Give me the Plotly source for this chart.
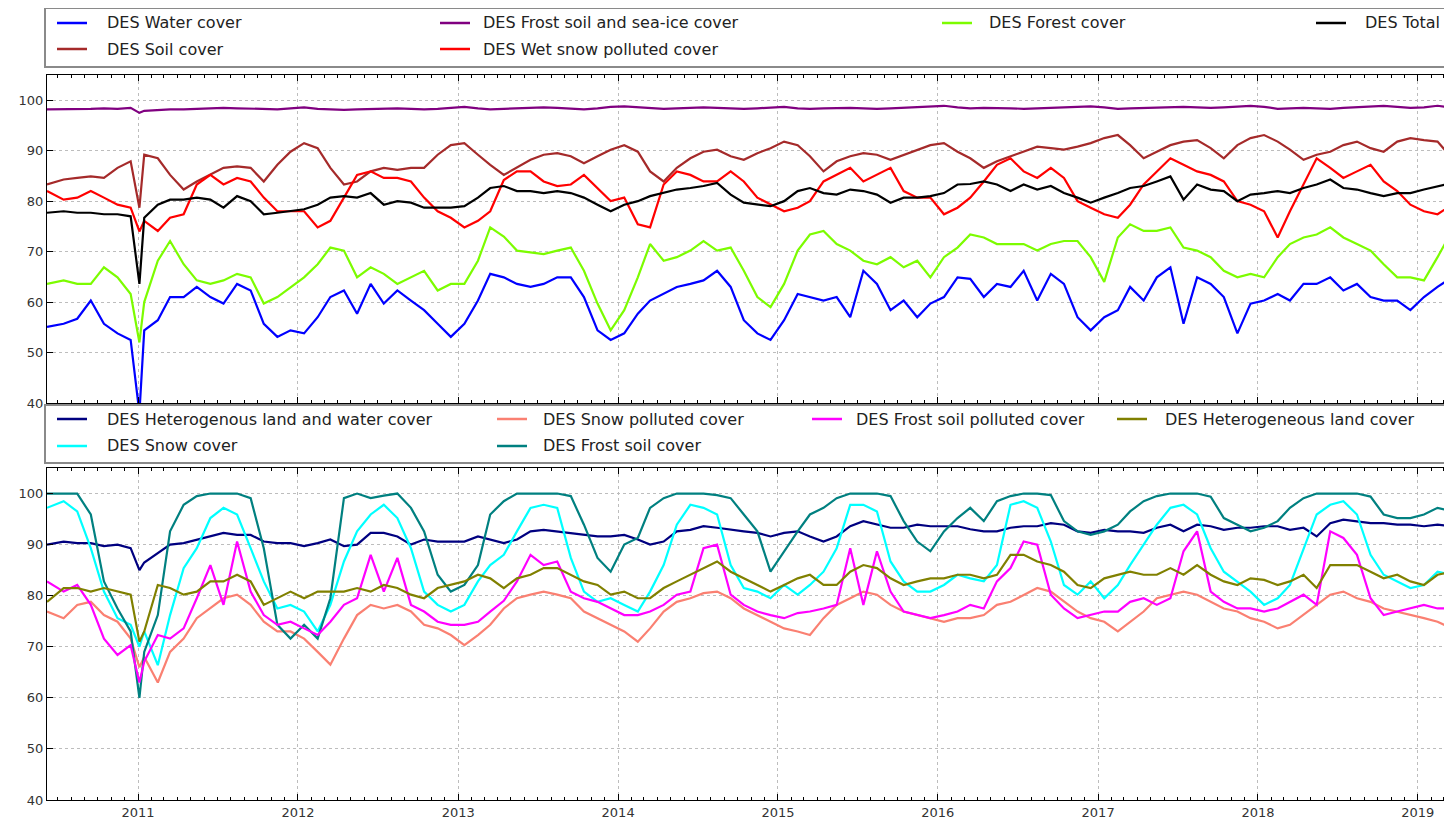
import pandas as pd
import plotly.graph_objects as go

# ---------------- dates (monthly samples, plus the early-Jan-2011 dip) ----------------
months = [d.strftime("%Y-%m-15") for d in pd.date_range("2010-06-01", "2019-03-01", freq="MS")]
months[0] = "2010-06-07"
months[-1] = "2019-03-20"
dates = months[:7] + ["2011-01-04"] + months[7:]

# ---------------- top panel series ----------------
water = [55.1, 55.7, 56.7, 60.3, 55.7, 53.8, 52.5,
         38,
         54.4, 56.4, 61, 61, 63, 61, 59.7, 63.6, 62.3, 55.7, 53.1, 54.4,
         53.8, 57, 61, 62.3, 57.7, 63.6, 59.7, 62.3, 60.3, 58.4, 55.7, 53.1,
         55.7, 60.3, 65.6, 64.9, 63.6, 63, 63.6, 64.9, 64.9, 61, 54.4, 52.5,
         53.8, 57.7, 60.3, 61.6, 63, 63.6, 64.3, 66.2, 63, 56.4, 53.8, 52.5,
         56.4, 61.6, 61, 60.3, 61, 57, 66.2, 63.6, 58.4, 60.3, 57, 59.7,
         61, 64.9, 64.6, 61, 63.6, 63, 66.2, 60.3, 65.6, 63.6, 57, 54.4,
         57, 58.4, 63, 60.3, 64.9, 66.9, 55.7, 64.9, 63.6, 61, 53.8, 59.7,
         60.3, 61.6, 60.3, 63.6, 63.6, 64.9, 62.3, 63.6, 61, 60.3, 60.3, 58.4,
         61, 63, 64.9]

soil = [83.3, 84.3, 84.6, 84.9, 84.6, 86.6, 87.9,
        78.7,
        89.2, 88.5, 85.2, 82.3, 83.9, 85.2, 86.6, 86.9, 86.6, 83.9, 87.2, 89.8,
        91.5, 90.5, 86.6, 83.3, 83.9, 85.9, 86.6, 86.2, 86.6, 86.6, 89.2, 91.1,
        91.5, 89.2, 87.2, 85.2, 86.6, 88.2, 89.2, 89.5, 88.9, 87.5, 88.9, 90.2,
        91.1, 89.8, 85.9, 83.9, 86.6, 88.5, 89.8, 90.2, 88.9, 88.2, 89.5, 90.5,
        91.8, 91.1, 88.9, 85.9, 87.9, 88.9, 89.5, 89.2, 88.2, 89.2, 90.2, 91.1,
        91.5, 89.8, 88.5, 86.6, 87.9, 88.9, 89.8, 90.8, 90.5, 90.2, 90.8, 91.5,
        92.5, 93.1, 91.1, 88.5, 89.8, 91.1, 91.8, 92.1, 90.5, 88.5, 91.1, 92.5,
        93.1, 91.8, 90.2, 88.2, 89.2, 89.8, 91.1, 91.8, 90.5, 89.8, 91.8, 92.5,
        92.1, 91.8, 88.5]

frost_seaice = [98.2, 98.2, 98.3, 98.3, 98.4, 98.3, 98.5,
                97.5,
                97.9, 98.1, 98.2, 98.2, 98.3, 98.3, 98.5, 98.4, 98.3, 98.2, 98.2, 98.4,
                98.6, 98.3, 98.2, 98.1, 98.2, 98.3, 98.3, 98.4, 98.3, 98.2, 98.3, 98.5,
                98.7, 98.4, 98.2, 98.3, 98.4, 98.5, 98.6, 98.5, 98.3, 98.2, 98.4, 98.7,
                98.8, 98.6, 98.4, 98.3, 98.4, 98.5, 98.6, 98.5, 98.4, 98.3, 98.4, 98.6,
                98.7, 98.4, 98.3, 98.4, 98.5, 98.5, 98.4, 98.3, 98.4, 98.5, 98.6, 98.8,
                98.9, 98.6, 98.4, 98.5, 98.5, 98.4, 98.3, 98.4, 98.5, 98.6, 98.7, 98.8,
                98.6, 98.3, 98.4, 98.5, 98.6, 98.6, 98.7, 98.6, 98.5, 98.6, 98.7, 98.9,
                98.7, 98.3, 98.4, 98.5, 98.4, 98.3, 98.5, 98.6, 98.8, 98.9, 98.7, 98.5,
                98.6, 98.9, 98.5]

wet_snow = [82, 80.3, 80.7, 82, 80.7, 79.3, 78.7,
            74,
            76.1, 74.1, 76.7, 77.4, 83.3, 85.2, 83.3, 84.6, 83.9, 80.7, 78, 78,
            78, 74.8, 76.1, 80.7, 85.2, 85.9, 84.6, 84.6, 83.9, 80.7, 78, 76.7,
            74.8, 76.1, 78, 84.2, 85.9, 85.9, 83.9, 83, 83.3, 85.2, 82.6, 80,
            80.7, 75.4, 74.8, 83.3, 85.9, 85.2, 83.9, 83.9, 85.9, 83.9, 80.7, 79.3,
            78, 78.7, 80, 83.9, 85.2, 86.6, 83.9, 85.2, 86.6, 82, 80.7, 80.7,
            77.4, 78.7, 80.7, 83.9, 87.2, 88.5, 85.9, 84.6, 86.6, 84.6, 80, 78.7,
            77.4, 76.7, 79.3, 83.3, 85.9, 88.5, 87.2, 85.9, 85.2, 83.9, 80, 79.3,
            78, 72.8, 78, 83.3, 88.5, 86.6, 84.6, 85.9, 87.2, 83.9, 82, 79.3,
            78, 77.4, 79.3]

forest = [63.6, 64.3, 63.6, 63.6, 66.9, 64.9, 61.6,
          52,
          60, 68.2, 72.1, 67.5, 64.3, 63.6, 64.3, 65.6, 64.9, 59.7, 61, 63,
          64.9, 67.5, 70.8, 70.2, 64.9, 66.9, 65.6, 63.6, 64.9, 66.2, 62.3, 63.6,
          63.6, 68.2, 74.8, 73, 70.2, 69.8, 69.5, 70.2, 70.8, 66.2, 59.7, 54.4,
          58.4, 64.9, 71.5, 68.2, 68.9, 70.2, 72.1, 70.2, 70.8, 66.2, 61, 59,
          63.6, 70.2, 73.4, 74.1, 71.5, 70.2, 68.2, 67.5, 68.9, 66.9, 68.2, 64.9,
          68.9, 70.8, 73.4, 72.8, 71.5, 71.5, 71.5, 70.2, 71.5, 72.1, 72.1, 68.9,
          64, 72.8, 75.4, 74.1, 74.1, 74.8, 70.8, 70.2, 68.9, 66.2, 64.9, 65.6,
          64.9, 68.9, 71.5, 72.8, 73.4, 74.8, 72.8, 71.5, 70.2, 67.5, 64.9, 64.9,
          64.3, 68.9, 74.1]

total = [77.7, 78, 77.7, 77.7, 77.4, 77.4, 77,
         63.6,
         76.7, 79.3, 80.3, 80.3, 80.7, 80.3, 78.7, 81, 80, 77.4, 77.7, 78,
         78.4, 79.3, 80.7, 81, 80.7, 81.6, 79.3, 80, 79.7, 78.7, 78.7, 78.7,
         79, 80.7, 82.6, 83, 82, 82, 81.6, 82, 81.6, 80.7, 79.3, 78,
         79.3, 80, 81, 81.6, 82.3, 82.6, 83, 83.6, 81.3, 79.7, 79.3, 79,
         80, 82, 82.6, 81.6, 81.3, 82.3, 82, 81.3, 79.7, 80.7, 80.7, 81,
         81.6, 83.3, 83.4, 83.9, 83.3, 82, 83.3, 82.3, 83, 81.6, 80.7, 79.7,
         80.7, 81.6, 82.6, 83, 83.9, 84.9, 80.3, 83.3, 82.3, 82, 80, 81.3,
         81.6, 82, 81.6, 82.6, 83.3, 84.3, 82.6, 82.3, 81.6, 81, 81.6, 81.6,
         82.3, 83, 83.6]

# ---------------- bottom panel series ----------------
het_land_water = [90, 90.6, 90.3, 90.3, 89.7, 90, 89.3,
                  85,
                  86.5, 88.3, 90, 90.3, 91, 91.6, 92.3, 91.9, 91.9, 90.6, 90.3, 90.3,
                  89.7, 90.3, 91, 89.7, 90, 92.3, 92.3, 91.6, 90, 91, 90.6, 90.6,
                  90.6, 91.6, 91, 90.3, 91, 92.6, 92.9, 92.6, 92.3, 91.9, 91.6, 91.6,
                  91.9, 91, 90, 90.6, 92.6, 92.9, 93.6, 93.3, 92.9, 92.6, 92.3, 91.6,
                  92.3, 92.6, 91.6, 90.6, 91.6, 93.6, 94.6, 93.9, 93.3, 93.3, 93.9, 93.6,
                  93.6, 93.6, 93, 92.6, 92.6, 93.3, 93.6, 93.6, 94.2, 93.9, 92.6, 92.3,
                  92.9, 92.6, 92.6, 92.3, 93.3, 93.9, 92.6, 93.9, 93.6, 92.9, 93.3, 93.3,
                  93.6, 93.6, 92.9, 93.3, 91.6, 94.2, 94.9, 94.6, 94.2, 94.2, 93.9, 93.9,
                  93.6, 93.9, 93.6]

snow = [97.2, 98.5, 96.5, 89.3, 80.8, 75.6, 74.3,
        70,
        73, 66.4, 76.2, 85.4, 89.3, 95.2, 97.2, 95.9, 89.3, 82.8, 77.5, 78.2,
        76.9, 73, 78.2, 86.7, 92.6, 95.9, 97.8, 95.2, 89.3, 80.8, 78.2, 76.9,
        78.2, 82.8, 86, 88, 92.6, 97.2, 97.8, 97.2, 87.4, 80.8, 78.8, 79.5,
        78.2, 76.9, 80.8, 86, 93.9, 97.8, 97.2, 95.9, 86, 81.5, 80.8, 79.5,
        82.1, 80.2, 82.1, 84.7, 89.3, 97.8, 97.8, 96.5, 86.7, 82.8, 80.8, 80.8,
        82.1, 84.1, 83.4, 82.8, 86, 97.8, 98.5, 97.2, 90.6, 82.1, 80.2, 82.8,
        79.5, 82.1, 86, 90, 93.9, 97.2, 97.8, 95.9, 89.3, 84.7, 82.8, 80.8,
        78.2, 79.5, 82.1, 89.3, 95.9, 97.8, 98.5, 95.9, 88, 84.1, 82.8, 81.5,
        82.1, 84.7, 84.1]

snow_polluted = [76.9, 75.6, 78.2, 78.8, 76.2, 74.9, 71.6,
                 66,
                 68, 63, 69, 71.6, 75.6, 77.5, 79.5, 80.2, 78.2, 74.9, 73, 73,
                 71.6, 69, 66.5, 71.6, 76.2, 78.2, 77.5, 78.2, 76.9, 74.3, 73.6, 72.3,
                 70.3, 72.3, 74.3, 77.5, 79.5, 80.2, 80.8, 80.2, 79.5, 76.9, 75.6, 74.3,
                 73, 71, 73.6, 76.9, 78.8, 79.5, 80.5, 80.8, 79.5, 77.5, 76.2, 74.9,
                 73.6, 73, 72.3, 75.6, 78.2, 79.5, 80.8, 80.2, 78.2, 76.9, 76.2, 75.6,
                 74.9, 75.6, 75.6, 76.2, 78.2, 78.8, 80.2, 81.5, 80.8, 78.8, 76.9, 75.6,
                 74.9, 73, 74.9, 76.9, 79.5, 80.2, 80.8, 80.2, 78.8, 77.5, 76.9, 75.6,
                 74.9, 73.6, 74.3, 76.2, 78.2, 80.2, 80.8, 79.5, 78.8, 77.5, 76.9, 76.2,
                 75.6, 74.9, 73.6]

frost_soil = [100, 100, 100, 95.9, 82.8, 77.5, 73,
              60,
              69, 76.2, 92.6, 97.8, 99.5, 100, 100, 100, 99.1, 89.3, 74.3, 71.6,
              74.3, 71.6, 79.5, 99.1, 100, 99.1, 99.6, 100, 97.2, 92.6, 84.1, 80.8,
              82.1, 86, 95.9, 98.5, 100, 100, 100, 100, 99.5, 93.9, 87.4, 84.7,
              90, 91.3, 97.2, 99.1, 100, 100, 100, 99.7, 99.1, 95.9, 92.6, 84.7,
              88.7, 92.6, 95.9, 97.2, 99.1, 100, 100, 100, 99.5, 94.6, 90.6, 88.7,
              92.6, 95.2, 97.2, 94.6, 98.5, 99.5, 100, 100, 99.7, 94.6, 92.6, 91.9,
              92.6, 93.9, 96.5, 98.5, 99.5, 100, 100, 100, 99.4, 95.2, 93.9, 92.6,
              93.3, 94.6, 97.2, 99.1, 100, 100, 100, 100, 99.4, 95.9, 95.2, 95.2,
              95.9, 97.2, 96.5]

frost_soil_polluted = [82.8, 80.8, 82.1, 78.2, 71.6, 68.4, 70.3,
                       63,
                       67.1, 72.3, 71.6, 73.6, 79.5, 86, 78.2, 90.6, 80.8, 76.2, 74.3, 74.9,
                       73.6, 72.3, 74.9, 78.2, 79.5, 88, 80.8, 87.4, 78.2, 76.9, 74.9, 74.3,
                       74.3, 74.9, 76.9, 79, 82.8, 88, 86, 86.7, 80.8, 79.5, 78.8, 77.5,
                       76.2, 76.2, 76.9, 78.2, 80.2, 80.8, 89.3, 90, 80.2, 78.2, 76.9, 76.2,
                       75.6, 76.6, 76.9, 77.5, 78.2, 89.3, 78.2, 88.7, 80.8, 76.9, 76.2, 75.6,
                       76.2, 76.9, 78.2, 77.5, 82.8, 85.4, 90.6, 90, 80.2, 77.5, 75.6, 76.2,
                       76.9, 76.9, 78.8, 79.5, 78.2, 79.5, 88.7, 92.6, 80.8, 78.8, 77.5, 77.5,
                       76.9, 77.5, 78.8, 80.2, 78.2, 92.6, 91.3, 88, 79.5, 76.2, 76.9, 77.5,
                       78.2, 77.5, 77.5]

het_land = [78.8, 81.5, 81.5, 80.8, 81.5, 80.8, 80.2,
            71,
            73, 82.1, 81.5, 80.2, 80.8, 82.8, 82.8, 84.1, 82.8, 78.2, 79.5, 80.8,
            79.5, 80.8, 80.8, 80.8, 81.5, 80.8, 82.1, 81.5, 80.2, 79.5, 81.5, 82.1,
            82.8, 84.1, 83.4, 81.5, 83.4, 84.1, 85.4, 85.4, 84.1, 82.8, 82.1, 80.2,
            80.8, 79.5, 79.5, 81.5, 82.8, 84.1, 85.4, 86.7, 84.7, 83.4, 82.1, 80.8,
            82.1, 83.4, 84.1, 82.1, 82.1, 84.7, 86, 85.4, 83.4, 82.1, 82.8, 83.4,
            83.4, 84.1, 84.1, 83.4, 84.1, 88, 88, 86.7, 86, 84.7, 82.1, 81.5,
            83.4, 84.1, 84.7, 84.1, 84.1, 85.4, 84.1, 86, 84.1, 82.8, 82.1, 83.4,
            83.1, 82.1, 82.8, 84.1, 81.5, 86, 86, 86, 84.7, 83.4, 84.1, 82.8,
            82.1, 84.1, 84.7]

y_ticks = [40, 50, 60, 70, 80, 90, 100]
x_start, x_end = "2010-06-07", "2019-03-20"

top_series = [
    ("DES Water cover", water, "#0000ff"),
    ("DES Soil cover", soil, "#a52a2a"),
    ("DES Frost soil and sea-ice cover", frost_seaice, "#800080"),
    ("DES Wet snow polluted cover", wet_snow, "#ff0000"),
    ("DES Forest cover", forest, "#7cfc00"),
    ("DES Total", total, "#000000"),
]
bottom_series = [
    ("DES Heterogenous land and water cover", het_land_water, "#000080"),
    ("DES Snow cover", snow, "#00ffff"),
    ("DES Snow polluted cover", snow_polluted, "#fa8072"),
    ("DES Frost soil cover", frost_soil, "#008080"),
    ("DES Frost soil polluted cover", frost_soil_polluted, "#ff00ff"),
    ("DES Heterogeneous land cover", het_land, "#808000"),
]

# ---------------- layout geometry (page pixels; the page body has an 8px margin) ----------------
OFF = 8
PAGE_W, PAGE_H = 1452, 821
W, H = PAGE_W - OFF, PAGE_H - OFF
PLOT_L, PLOT_R, PLOT_T, PLOT_B = 47, 1452, 75, 800
L, R = PLOT_L - OFF, PAGE_W - PLOT_R
T, B = PLOT_T - OFF, PAGE_H - PLOT_B
PW, PH = PLOT_R - PLOT_L, PLOT_B - PLOT_T

def px(x):
    return (x - PLOT_L) / PW

def py(y):
    return (PLOT_B - y) / PH

fig = go.Figure()
for name, vals, col in top_series:
    fig.add_trace(go.Scatter(x=dates, y=vals, mode="lines", name=name,
                             line=dict(color=col, width=2.2), xaxis="x", yaxis="y",
                             showlegend=False))
for name, vals, col in bottom_series:
    fig.add_trace(go.Scatter(x=dates, y=vals, mode="lines", name=name,
                             line=dict(color=col, width=2.2), xaxis="x2", yaxis="y2",
                             showlegend=False))

tickfont = dict(family="DejaVu Sans", size=13, color="#333333")
xcommon = dict(range=[x_start, x_end], type="date", showline=True, linecolor="black",
               linewidth=1, mirror="allticks", ticks="inside", ticklen=6, tickcolor="black",
               tick0="2011-01-01", dtick="M12", tickformat="%Y",
               showgrid=True, gridcolor="#bdbdbd", griddash="dot", gridwidth=1,
               zeroline=False, tickfont=tickfont,
               minor=dict(dtick="M1", ticks="inside", ticklen=3, tickcolor="black", showgrid=False))
ycommon = dict(range=[40, 105], tickvals=y_ticks, showline=True, linecolor="black",
               linewidth=1, mirror="allticks", ticks="inside", ticklen=6, tickcolor="black",
               showgrid=True, gridcolor="#bdbdbd", griddash="dot", gridwidth=1,
               zeroline=False, tickfont=tickfont)

top_y0 = py(403)
bot_y1 = py(468)
fig.update_layout(
    width=W, height=H,
    margin=dict(l=L, r=R, t=T, b=B, autoexpand=False),
    paper_bgcolor="white", plot_bgcolor="white",
    font=dict(family="DejaVu Sans", color="#222222"),
    xaxis=dict(xcommon, domain=[0, 1], anchor="y", showticklabels=False, matches="x2"),
    yaxis=dict(ycommon, domain=[top_y0, 1], anchor="x"),
    xaxis2=dict(xcommon, domain=[0, 1], anchor="y2"),
    yaxis2=dict(ycommon, domain=[0, bot_y1], anchor="x2"),
)

# ---------------- custom legends (matplotlib-like, column-major) ----------------
shapes, annotations = [], []

def legend_box(y0, y1):
    shapes.append(dict(type="rect", xref="paper", yref="paper",
                       x0=px(45), x1=px(1450), y0=py(y1), y1=py(y0),
                       line=dict(color="#8a8a8a", width=2), fillcolor="white", layer="above"))

def legend_item(xl, xt, y, label, color):
    shapes.append(dict(type="line", xref="paper", yref="paper",
                       x0=px(xl), x1=px(xl + 30), y0=py(y), y1=py(y),
                       line=dict(color=color, width=2.5), layer="above"))
    annotations.append(dict(x=px(xt), y=py(y), xref="paper", yref="paper",
                            text=label, showarrow=False, xanchor="left", yanchor="middle",
                            font=dict(family="DejaVu Sans", size=16, color="#222222")))

legend_box(8, 67)
top_cols = [(57, 105), (57, 105), (440, 481), (440, 481), (942, 987), (1316, 1363)]
top_rows = [23, 49, 23, 49, 23, 23]
for (name, _, col), (xl, xt), yy in zip(top_series, top_cols, top_rows):
    legend_item(xl, xt, yy, name, col)

legend_box(405, 463)
bot_cols = [(57, 105), (57, 105), (497, 541), (497, 541), (812, 854), (1117, 1163)]
bot_rows = [419, 446, 419, 446, 419, 419]
for (name, _, col), (xl, xt), yy in zip(bottom_series, bot_cols, bot_rows):
    legend_item(xl, xt, yy, name, col)

fig.update_layout(shapes=shapes, annotations=annotations)
fig.write_html("out.html")
